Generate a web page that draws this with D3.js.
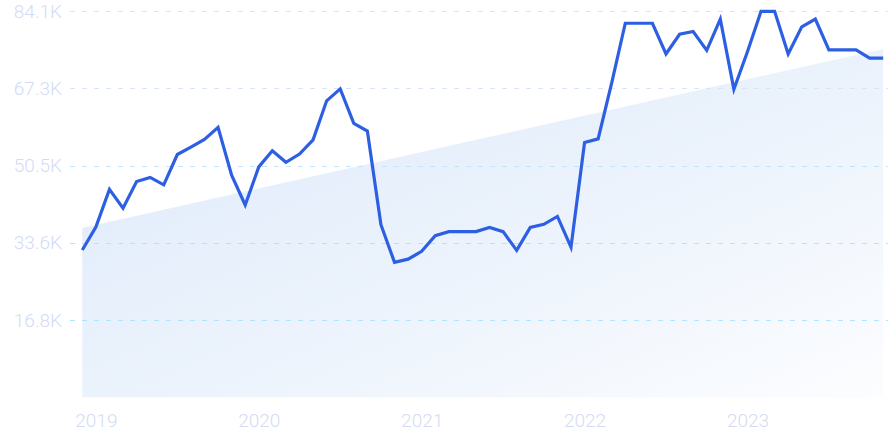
<!DOCTYPE html>
<html>
<head>
<meta charset="utf-8">
<script src="https://cdn.jsdelivr.net/npm/d3@7"></script>
<style>
  html, body { margin: 0; padding: 0; background: #ffffff; }
  svg { display: block; }
</style>
</head>
<body>
<svg id="chart" width="888" height="443"></svg>
<script>
const months = [
  "2018-12",
  "2019-01","2019-02","2019-03","2019-04","2019-05","2019-06","2019-07","2019-08","2019-09","2019-10","2019-11","2019-12",
  "2020-01","2020-02","2020-03","2020-04","2020-05","2020-06","2020-07","2020-08","2020-09","2020-10","2020-11","2020-12",
  "2021-01","2021-02","2021-03","2021-04","2021-05","2021-06","2021-07","2021-08","2021-09","2021-10","2021-11","2021-12",
  "2022-01","2022-02","2022-03","2022-04","2022-05","2022-06","2022-07","2022-08","2022-09","2022-10","2022-11","2022-12",
  "2023-01","2023-02","2023-03","2023-04","2023-05","2023-06","2023-07","2023-08","2023-09","2023-10","2023-11"
];
const values = [
  32100,
  37100,45300,41200,47000,47900,46300,52900,54500,56200,58800,48400,41900,
  50200,53700,51200,53000,56100,64600,67200,59700,58000,37600,29400,30100,
  31800,35200,36100,36100,36100,37000,36100,32000,37000,37700,39400,32700,
  55500,56300,68500,81500,81500,81500,74800,79100,79700,75600,82400,67100,
  75300,84100,84100,74800,80700,82400,75700,75700,75700,73900,73900
];
const trendValues = [36900, 75900];
const yTicks = [16820, 33640, 50460, 67280, 84100];
const yTickLabels = ["16.8K", "33.6K", "50.5K", "67.3K", "84.1K"];
const xTickMonths = ["2019-01", "2020-01", "2021-01", "2022-01", "2023-01"];
const xTickLabels = ["2019", "2020", "2021", "2022", "2023"];

const svg = d3.select("#chart");
const plotLeft = 82.3, plotRight = 883.2, plotTop = 11.3, plotBottom = 397.3;

const x = d3.scalePoint().domain(months).range([plotLeft, plotRight]).padding(0);
const y = d3.scaleLinear().domain([0, 84100]).range([plotBottom, plotTop]);

const defs = svg.append("defs");
const grad = defs.append("linearGradient")
  .attr("id", "areaGrad")
  .attr("x1", "0").attr("y1", "0").attr("x2", "1").attr("y2", "1");
grad.append("stop").attr("offset", "0%").attr("stop-color", "#dde9fa");
grad.append("stop").attr("offset", "55%").attr("stop-color", "#ecf3fc");
grad.append("stop").attr("offset", "100%").attr("stop-color", "#fcfdff");

// trend area
const trendPts = [
  { m: months[0], v: trendValues[0] },
  { m: months[months.length - 1], v: trendValues[1] }
];
const area = d3.area()
  .x(d => x(d.m))
  .y0(y(0))
  .y1(d => y(d.v));
svg.append("path")
  .datum(trendPts)
  .attr("d", area)
  .attr("fill", "url(#areaGrad)");

// grid
const gridColors = ["#b2e4fc", "#b2e4fc", "#c4e4fb", "#d9e3f7", "#d9e3f7"];
svg.append("g")
  .selectAll("line")
  .data(yTicks)
  .join("line")
  .attr("x1", 70)
  .attr("x2", 888)
  .attr("y1", d => Math.round(y(d)) + 0.5)
  .attr("y2", d => Math.round(y(d)) + 0.5)
  .attr("stroke", (d, i) => gridColors[i])
  .attr("stroke-width", 1)
  .attr("stroke-dasharray", "5,7");

// y axis labels
const yAxis = d3.axisLeft(y)
  .tickValues(yTicks)
  .tickFormat((d, i) => yTickLabels[i])
  .tickSize(0)
  .tickPadding(0);
const gy = svg.append("g")
  .attr("transform", "translate(62,0)")
  .call(yAxis);
gy.select(".domain").remove();
gy.selectAll("text")
  .attr("fill", "#d3dbf4")
  .attr("font-family", "Roboto, sans-serif")
  .attr("font-size", 19)
  .attr("font-weight", 300);

// x axis labels
const xAxis = d3.axisBottom(x)
  .tickValues(xTickMonths)
  .tickFormat((d, i) => xTickLabels[i])
  .tickSize(0)
  .tickPadding(0);
const gx = svg.append("g")
  .attr("transform", "translate(0,413)")
  .call(xAxis);
gx.select(".domain").remove();
gx.selectAll("text")
  .attr("dy", "0.71em")
  .attr("fill", "#d3dbf4")
  .attr("font-family", "Roboto, sans-serif")
  .attr("font-size", 19)
  .attr("font-weight", 300);

// line
const line = d3.line()
  .x((d, i) => x(months[i]))
  .y(d => y(d));
svg.append("path")
  .datum(values)
  .attr("d", line)
  .attr("fill", "none")
  .attr("stroke", "#2d5fe2")
  .attr("stroke-width", 3.2)
  .attr("stroke-linejoin", "miter");
</script>
</body>
</html>
